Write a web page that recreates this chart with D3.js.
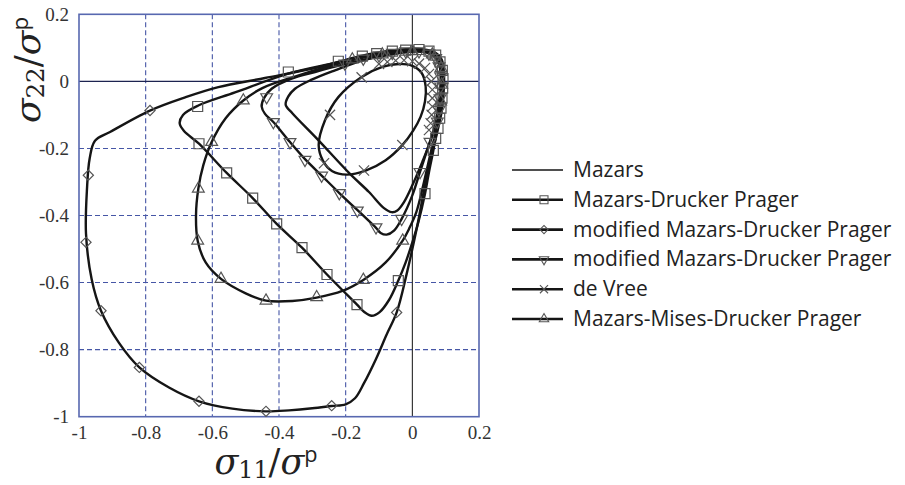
<!DOCTYPE html>
<html>
<head>
<meta charset="utf-8">
<script src="https://cdn.jsdelivr.net/npm/d3@7"></script>
<style>
  body { margin: 0; background: #fff; }
  .tick text { font-family: "Liberation Serif", serif; font-size: 19px; fill: #333; }
  .leyenda text { font-family: "Open Sans", sans-serif; font-size: 21px; fill: #222; }
</style>
</head>
<body>
<div id="grafica"></div>
<script>
// ticks de los ejes
const xTicks = [-1, -0.8, -0.6, -0.4, -0.2, 0, 0.2];
const yTicks = [-1, -0.8, -0.6, -0.4, -0.2, 0, 0.2];

const nombres = [
  "Mazars",
  "Mazars-Drucker Prager",
  "modified Mazars-Drucker Prager",
  "modified Mazars-Drucker Prager",
  "de Vree",
  "Mazars-Mises-Drucker Prager"
];

// superficies (sigma11, sigma22)
const mazars = [
  [0.03, 0.088], [0.065, 0.078], [0.082, 0.045], [0.085, 0.0], [0.08, -0.06],
  [0.07, -0.12], [0.055, -0.175], [0.03, -0.24], [0.0, -0.31], [-0.025, -0.36],
  [-0.045, -0.385], [-0.062, -0.39], [-0.085, -0.378], [-0.13, -0.33], [-0.187, -0.276],
  [-0.287, -0.17], [-0.36, -0.095], [-0.38, -0.07], [-0.372, -0.045], [-0.352, -0.022],
  [-0.302, 0.005], [-0.232, 0.033], [-0.15, 0.062], [-0.05, 0.083]
];

const mazarsDP = [
  [0.02, 0.094], [0.062, 0.085], [0.084, 0.06], [0.091, 0.02], [0.09, -0.03],
  [0.084, -0.09], [0.073, -0.15], [0.063, -0.206], [0.05, -0.27], [0.038, -0.335],
  [0.018, -0.42], [0.0, -0.48], [-0.02, -0.54], [-0.042, -0.594], [-0.07, -0.652],
  [-0.098, -0.688], [-0.122, -0.699], [-0.145, -0.687], [-0.166, -0.666], [-0.256, -0.576],
  [-0.331, -0.496], [-0.407, -0.425], [-0.479, -0.348], [-0.557, -0.273], [-0.64, -0.186],
  [-0.685, -0.148], [-0.698, -0.125], [-0.688, -0.1], [-0.642, -0.072], [-0.532, -0.033],
  [-0.372, 0.023], [-0.232, 0.055], [-0.12, 0.08], [-0.04, 0.09]
];
const mazarsDPMarcas = [
  [-0.372, 0.028], [-0.644, -0.075], [-0.64, -0.186], [-0.557, -0.273], [-0.479, -0.348],
  [-0.407, -0.425], [-0.331, -0.496], [-0.256, -0.576], [-0.166, -0.666], [-0.042, -0.594],
  [0.038, -0.335], [0.063, -0.206], [-0.222, 0.06], [-0.15, 0.075], [-0.107, 0.083],
  [-0.06, 0.09], [-0.02, 0.093], [0.02, 0.095], [0.05, 0.09], [0.07, 0.078],
  [0.083, 0.058], [0.09, 0.033], [0.092, 0.008], [0.091, -0.02], [0.089, -0.05],
  [0.086, -0.08], [0.082, -0.11], [0.077, -0.14], [0.07, -0.17]
];

const modificado = [
  [0.02, 0.097], [0.065, 0.088], [0.088, 0.065], [0.095, 0.02], [0.094, -0.03],
  [0.088, -0.09], [0.075, -0.15], [0.058, -0.22], [0.038, -0.31], [0.015, -0.43],
  [-0.017, -0.574], [-0.047, -0.689], [-0.077, -0.755], [-0.11, -0.83], [-0.145, -0.9],
  [-0.172, -0.945], [-0.2, -0.963], [-0.242, -0.968], [-0.3, -0.975], [-0.37, -0.981],
  [-0.44, -0.984], [-0.54, -0.976], [-0.64, -0.954], [-0.73, -0.913], [-0.819, -0.853],
  [-0.88, -0.78], [-0.934, -0.684], [-0.962, -0.59], [-0.979, -0.454], [-0.976, -0.32],
  [-0.968, -0.23], [-0.952, -0.177], [-0.907, -0.151], [-0.787, -0.087], [-0.68, -0.047],
  [-0.582, -0.017], [-0.442, 0.01], [-0.282, 0.042], [-0.157, 0.075], [-0.06, 0.092]
];
const modificadoMarcas = [
  [-0.787, -0.087], [-0.972, -0.28], [-0.979, -0.48], [-0.934, -0.684], [-0.819, -0.853],
  [-0.64, -0.954], [-0.439, -0.984], [-0.242, -0.967], [-0.047, -0.689]
];

const modificado2 = [
  [0.02, 0.09], [0.058, 0.08], [0.079, 0.055], [0.086, 0.02], [0.085, -0.03],
  [0.079, -0.09], [0.068, -0.14], [0.053, -0.18], [0.023, -0.27], [0.0, -0.34],
  [-0.032, -0.41], [-0.055, -0.445], [-0.077, -0.457], [-0.095, -0.452], [-0.109, -0.437],
  [-0.219, -0.333], [-0.272, -0.281], [-0.322, -0.232], [-0.367, -0.181], [-0.417, -0.121],
  [-0.442, -0.097], [-0.452, -0.075], [-0.445, -0.05], [-0.422, -0.022], [-0.362, 0.008],
  [-0.292, 0.028], [-0.2, 0.052], [-0.12, 0.07], [-0.05, 0.083]
];
const modificado2Marcas = [
  [-0.437, -0.047], [-0.417, -0.121], [-0.367, -0.181], [-0.322, -0.234], [-0.272, -0.281],
  [-0.219, -0.333], [-0.165, -0.385], [-0.109, -0.435], [-0.032, -0.41], [0.023, -0.27],
  [0.053, -0.18], [-0.202, 0.053], [-0.147, 0.068], [-0.1, 0.078], [-0.06, 0.085],
  [-0.02, 0.09], [0.02, 0.09], [0.05, 0.083], [0.07, 0.07], [0.08, 0.045],
  [0.085, 0.015], [0.085, -0.015], [0.083, -0.05], [0.08, -0.085], [0.075, -0.12]
];

const deVree = [
  [-0.04, 0.052], [0.0, 0.046], [0.028, 0.025], [0.04, -0.015], [0.038, -0.06],
  [0.025, -0.105], [0.003, -0.146], [-0.03, -0.19], [-0.08, -0.235], [-0.14, -0.266],
  [-0.197, -0.278], [-0.24, -0.268], [-0.268, -0.237], [-0.281, -0.19], [-0.262, -0.116],
  [-0.222, -0.047], [-0.152, 0.013], [-0.09, 0.043]
];
const deVreeMarcas = [
  [-0.152, 0.012], [-0.247, -0.1], [-0.265, -0.244], [-0.145, -0.266], [-0.03, -0.19],
  [-0.1, 0.052], [-0.075, 0.058], [-0.05, 0.062], [-0.025, 0.063], [0.0, 0.06],
  [0.02, 0.053], [0.038, 0.04], [0.05, 0.022], [0.057, 0.0], [0.06, -0.025],
  [0.06, -0.05], [0.06, -0.075], [0.058, -0.1], [0.055, -0.125], [0.05, -0.145]
];

const mises = [
  [0.02, 0.092], [0.06, 0.083], [0.082, 0.058], [0.089, 0.02], [0.088, -0.03],
  [0.082, -0.09], [0.072, -0.145], [0.058, -0.2], [0.035, -0.3], [0.012, -0.39],
  [-0.01, -0.44], [-0.029, -0.475], [-0.08, -0.54], [-0.147, -0.592], [-0.21, -0.625],
  [-0.287, -0.645], [-0.36, -0.655], [-0.439, -0.654], [-0.5, -0.632], [-0.574, -0.589],
  [-0.62, -0.54], [-0.644, -0.475], [-0.649, -0.4], [-0.642, -0.32], [-0.627, -0.25],
  [-0.602, -0.181], [-0.56, -0.11], [-0.507, -0.057], [-0.45, -0.02], [-0.35, 0.015],
  [-0.25, 0.045], [-0.15, 0.07], [-0.06, 0.085]
];
const misesMarcas = [
  [-0.507, -0.057], [-0.602, -0.181], [-0.642, -0.32], [-0.644, -0.475], [-0.574, -0.589],
  [-0.439, -0.654], [-0.287, -0.644], [-0.147, -0.592], [-0.029, -0.475], [-0.18, 0.065],
  [-0.09, 0.08], [0.0, 0.09], [0.06, 0.08], [0.086, 0.04], [0.088, -0.01], [0.085, -0.06]
];

// parametros de la grafica
const ancho = 905, alto = 485;
const area = { left: 79, right: 479, top: 14.3, bottom: 416.7 };
const colorMalla = "#4656a6";
const colorMarca = "#555";

const svg = d3.select("#grafica").append("svg")
  .attr("width", ancho)
  .attr("height", alto);

const xScale = d3.scaleLinear().domain([-1, 0.2]).range([area.left, area.right]);
const yScale = d3.scaleLinear().domain([-1, 0.2]).range([area.bottom, area.top]);

// malla punteada
svg.append("g").selectAll("line")
  .data(xTicks.filter(d => d > -1 && d < 0))
  .enter().append("line")
  .attr("x1", d => xScale(d)).attr("x2", d => xScale(d))
  .attr("y1", area.top).attr("y2", area.bottom)
  .attr("stroke", colorMalla).attr("stroke-width", 1.1)
  .attr("stroke-dasharray", "5,3");

svg.append("g").selectAll("line")
  .data(yTicks.filter(d => d > -1 && d < 0))
  .enter().append("line")
  .attr("y1", d => yScale(d)).attr("y2", d => yScale(d))
  .attr("x1", area.left).attr("x2", area.right)
  .attr("stroke", colorMalla).attr("stroke-width", 1.1)
  .attr("stroke-dasharray", "5,3");

// ejes cero
svg.append("line")
  .attr("x1", area.left).attr("x2", area.right)
  .attr("y1", yScale(0)).attr("y2", yScale(0))
  .attr("stroke", "#1c2350").attr("stroke-width", 1.2);
svg.append("line")
  .attr("x1", xScale(0)).attr("x2", xScale(0))
  .attr("y1", area.top).attr("y2", area.bottom)
  .attr("stroke", "#111").attr("stroke-width", 1);

// marco
svg.append("rect")
  .attr("x", area.left).attr("y", area.top)
  .attr("width", area.right - area.left).attr("height", area.bottom - area.top)
  .attr("fill", "none").attr("stroke", "#5868b0").attr("stroke-width", 1.6);

// ejes con etiquetas
const xAxis = d3.axisBottom(xScale).tickValues(xTicks).tickSize(0).tickPadding(9)
  .tickFormat(d => d3.format("")(d).replace("−", "-"));
const yAxis = d3.axisLeft(yScale).tickValues(yTicks).tickSize(0).tickPadding(10)
  .tickFormat(d => d3.format("")(d).replace("−", "-"));

svg.append("g")
  .attr("transform", `translate(0, ${area.bottom})`)
  .call(xAxis)
  .call(g => g.select(".domain").remove());
svg.append("g")
  .attr("transform", `translate(${area.left}, 0)`)
  .call(yAxis)
  .call(g => g.select(".domain").remove());

// titulos de ejes
function titulo(sel, sub) {
  sel.append("tspan").attr("font-style", "italic").text("σ");
  sel.append("tspan").attr("font-size", "0.68em").attr("dy", "0.18em").text(sub);
  sel.append("tspan").attr("dy", "-0.12em").text("/");
  sel.append("tspan").attr("font-style", "italic").text("σ");
  sel.append("tspan").attr("font-size", "0.62em").attr("dy", "-0.55em")
    .attr("font-family", "'Open Sans', sans-serif").text("p");
}
svg.append("text")
  .attr("x", 266).attr("y", 474)
  .attr("text-anchor", "middle")
  .attr("font-family", "'DejaVu Serif', serif")
  .attr("font-size", 35).attr("fill", "#222")
  .call(t => titulo(t, "11"));
svg.append("text")
  .attr("transform", "translate(40, 70) rotate(-90)")
  .attr("text-anchor", "middle")
  .attr("font-family", "'DejaVu Serif', serif")
  .attr("font-size", 36).attr("fill", "#222")
  .call(t => titulo(t, "22"));

// series
const series = [
  { datos: mazars, marcas: [], simbolo: null },
  { datos: mazarsDP, marcas: mazarsDPMarcas, simbolo: "cuadro" },
  { datos: modificado, marcas: modificadoMarcas, simbolo: "diamante" },
  { datos: modificado2, marcas: modificado2Marcas, simbolo: "trianguloAbajo" },
  { datos: deVree, marcas: deVreeMarcas, simbolo: "equis" },
  { datos: mises, marcas: misesMarcas, simbolo: "triangulo" }
];

function marca(sel, tipo, escala) {
  const k = escala || 1;
  if (tipo === "cuadro") {
    sel.attr("d", d3.symbol(d3.symbolSquare, 100 * k * k));
  } else if (tipo === "diamante") {
    sel.attr("d", d3.symbol(d3.symbolSquare, 52 * k * k)).attr("data-rot", 45);
  } else if (tipo === "triangulo") {
    sel.attr("d", d3.symbol(d3.symbolTriangle, 60 * k * k));
  } else if (tipo === "trianguloAbajo") {
    sel.attr("d", d3.symbol(d3.symbolTriangle, 60 * k * k)).attr("data-rot", 180);
  } else if (tipo === "equis") {
    sel.attr("d", d3.symbol(d3.symbolX, 70 * k * k));
  }
}

const linea = d3.line()
  .x(d => xScale(d[0]))
  .y(d => yScale(d[1]))
  .curve(d3.curveCatmullRomClosed.alpha(0.5));

const lineas = svg.append("g").attr("class", "lines");
lineas.selectAll("path")
  .data(series).enter()
  .append("path")
  .attr("d", d => linea(d.datos))
  .attr("fill", "none")
  .attr("stroke", "#151515")
  .attr("stroke-width", 2.4)
  .attr("stroke-linejoin", "round");

series.forEach(s => {
  if (!s.simbolo) return;
  svg.append("g").selectAll("path")
    .data(s.marcas).enter()
    .append("path")
    .call(marca, s.simbolo)
    .attr("transform", function (d) {
      const rot = this.getAttribute("data-rot") || 0;
      return `translate(${xScale(d[0])}, ${yScale(d[1])}) rotate(${rot})`;
    })
    .attr("fill", "none")
    .attr("stroke", colorMarca)
    .attr("stroke-width", 1.2);
});

// leyenda
const leyenda = svg.append("g").attr("class", "leyenda");
const filas = leyenda.selectAll("g")
  .data(series).enter()
  .append("g")
  .attr("transform", (d, i) => `translate(512, ${170 + i * 29.8})`);

filas.append("line")
  .attr("x1", 0).attr("x2", 51)
  .attr("stroke", "#151515")
  .attr("stroke-width", (d, i) => i === 0 ? 1.6 : 2.6);

filas.filter(d => d.simbolo).append("path")
  .each(function (d) { d3.select(this).call(marca, d.simbolo, 0.8); })
  .attr("transform", function () {
    const rot = this.getAttribute("data-rot") || 0;
    return `translate(32, 0) rotate(${rot})`;
  })
  .attr("fill", "none")
  .attr("stroke", colorMarca)
  .attr("stroke-width", 1.1);

filas.append("text")
  .attr("x", 61).attr("y", 7)
  .text((d, i) => nombres[i]);
</script>
</body>
</html>
